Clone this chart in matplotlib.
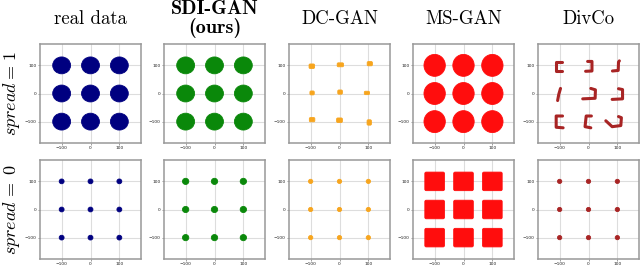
import matplotlib
matplotlib.use('Agg')
import matplotlib.pyplot as plt
from matplotlib.patches import Ellipse, FancyBboxPatch

plt.rcParams['mathtext.fontset'] = 'cm'

# ---------------- data ----------------
methods = ['real data', 'SDI-GAN\n(ours)', 'DC-GAN', 'MS-GAN', 'DivCo']
bold_title = [False, True, False, False, False]
colors = ['#000080', '#0a880a', '#f7a51e', '#ff0d0d', '#a82424']
row_labels = [r'$spread{=}\,1$', r'$spread\,{=}\;0$']
ticks = [-100, 0, 100]

grid_x = [-100, 0, 100, -100, 0, 100, -100, 0, 100]
grid_y = [100, 100, 100, 0, 0, 0, -100, -100, -100]

# spread = 1 : blob sizes (width, height)
real_w1, real_h1 = 62, 60
sdi_w1, sdi_h1 = 62, 60
ms_w1, ms_h1 = 74, 78

# DC-GAN, spread = 1 : collapsed small blobs
dc_x1 = [-96, 3, 105, -95, 2, 95, -95, 0, 103]
dc_y1 = [97, 102, 106, 2, 5, 2, -93, -95, -103]
dc_w1 = [19, 22, 18, 15, 16, 18, 19, 20, 15]
dc_h1 = [16, 14, 15, 14, 15, 12, 15, 16, 19]

# DivCo, spread = 1 : bracket-shaped traces (one path per cluster)
divco_px = [[-92, -112, -112, -92],
            [-3, 12, 12, -10],
            [107, 104, 103, 83],
            [-97, -103, -107],
            [8, 24, 23, -20],
            [104, 118, 118, 82],
            [-90, -112, -112, -88],
            [10, -8, -12, 8],
            [60, 82, 112, 114, 104]]
divco_py = [[112, 112, 79, 79],
            [114, 114, 80, 79],
            [116, 112, 82, 80],
            [18, -3, -25],
            [18, 13, -17, -19],
            [17, 14, -19, -21],
            [-80, -80, -120, -122],
            [-80, -80, -118, -122],
            [-97, -118, -114, -86, -82]]

# spread = 0 : blob sizes
real_w0 = 17
sdi_w0 = 22
dc_w0 = 15
ms_w0, ms_h0 = 68, 66
divco_w0 = 15

# ---------------- figure ----------------
fig = plt.figure(figsize=(6.4, 2.66), dpi=100)
W, H = 640.0, 266.0
col_left = [40, 164, 289, 413, 538]
row_top = [44, 160]
ax_w, ax_h = 101, 99

def style(ax):
    ax.set_xlim(-175, 175)
    ax.set_ylim(-176, 176)
    ax.set_xticks(ticks)
    ax.set_yticks(ticks)
    ax.tick_params(labelsize=3.2, length=1.5, width=0.5, color='#777777', pad=1,
                   labelcolor='#222222')
    ax.grid(True, color='#dddddd', linewidth=0.8)
    ax.set_axisbelow(True)
    for s in ax.spines.values():
        s.set_color('#999999')
        s.set_linewidth(1.1)

axes = []
for r in range(2):
    row = []
    for c in range(5):
        ax = fig.add_axes([col_left[c] / W, 1 - (row_top[r] + ax_h) / H, ax_w / W, ax_h / H])
        style(ax)
        row.append(ax)
    axes.append(row)

def blob(ax, x, y, w, h, color, z=3):
    ax.add_patch(Ellipse((x, y), w, h, facecolor=color, edgecolor=color, lw=0.6, zorder=z))

def square(ax, x, y, w, h, color, rnd=3):
    ax.add_patch(FancyBboxPatch((x - w / 2, y - h / 2), w, h,
                                boxstyle=f'round,pad=0,rounding_size={rnd}',
                                facecolor=color, edgecolor=color, lw=0.6, zorder=3))

# row 0 : spread = 1
for x, y in zip(grid_x, grid_y):
    blob(axes[0][0], x, y, real_w1, real_h1, colors[0])
    blob(axes[0][1], x, y, sdi_w1, sdi_h1, colors[1])
    blob(axes[0][3], x, y, ms_w1, ms_h1, colors[3])
for x, y, w, h in zip(dc_x1, dc_y1, dc_w1, dc_h1):
    square(axes[0][2], x, y, w, h, colors[2], rnd=4)
for px, py in zip(divco_px, divco_py):
    axes[0][4].plot(px, py, color=colors[4], lw=2.2, solid_capstyle='round',
                    solid_joinstyle='round', zorder=3)

# row 1 : spread = 0
for x, y in zip(grid_x, grid_y):
    blob(axes[1][0], x, y, real_w0, real_w0, colors[0])
    blob(axes[1][1], x, y, sdi_w0, sdi_w0, colors[1])
    blob(axes[1][2], x, y, dc_w0, dc_w0, colors[2])
    square(axes[1][3], x, y, ms_w0, ms_h0, colors[3], rnd=5)
    blob(axes[1][4], x, y, divco_w0, divco_w0, colors[4])

# titles
for c in range(5):
    cx = (col_left[c] + ax_w / 2) / W
    fam = 'cmb10' if bold_title[c] else 'cmr10'
    fs = 14.5 if bold_title[c] else 13.5
    fig.text(cx, 1 - 19 / H, methods[c], ha='center', va='center', fontsize=fs,
             family=fam, linespacing=1.0)

# row labels
for r in range(2):
    cy = 1 - (row_top[r] + ax_h / 2) / H
    fig.text(12 / W, cy, row_labels[r], rotation=90, ha='center', va='center', fontsize=13)

fig.savefig('out.png', dpi=100)
